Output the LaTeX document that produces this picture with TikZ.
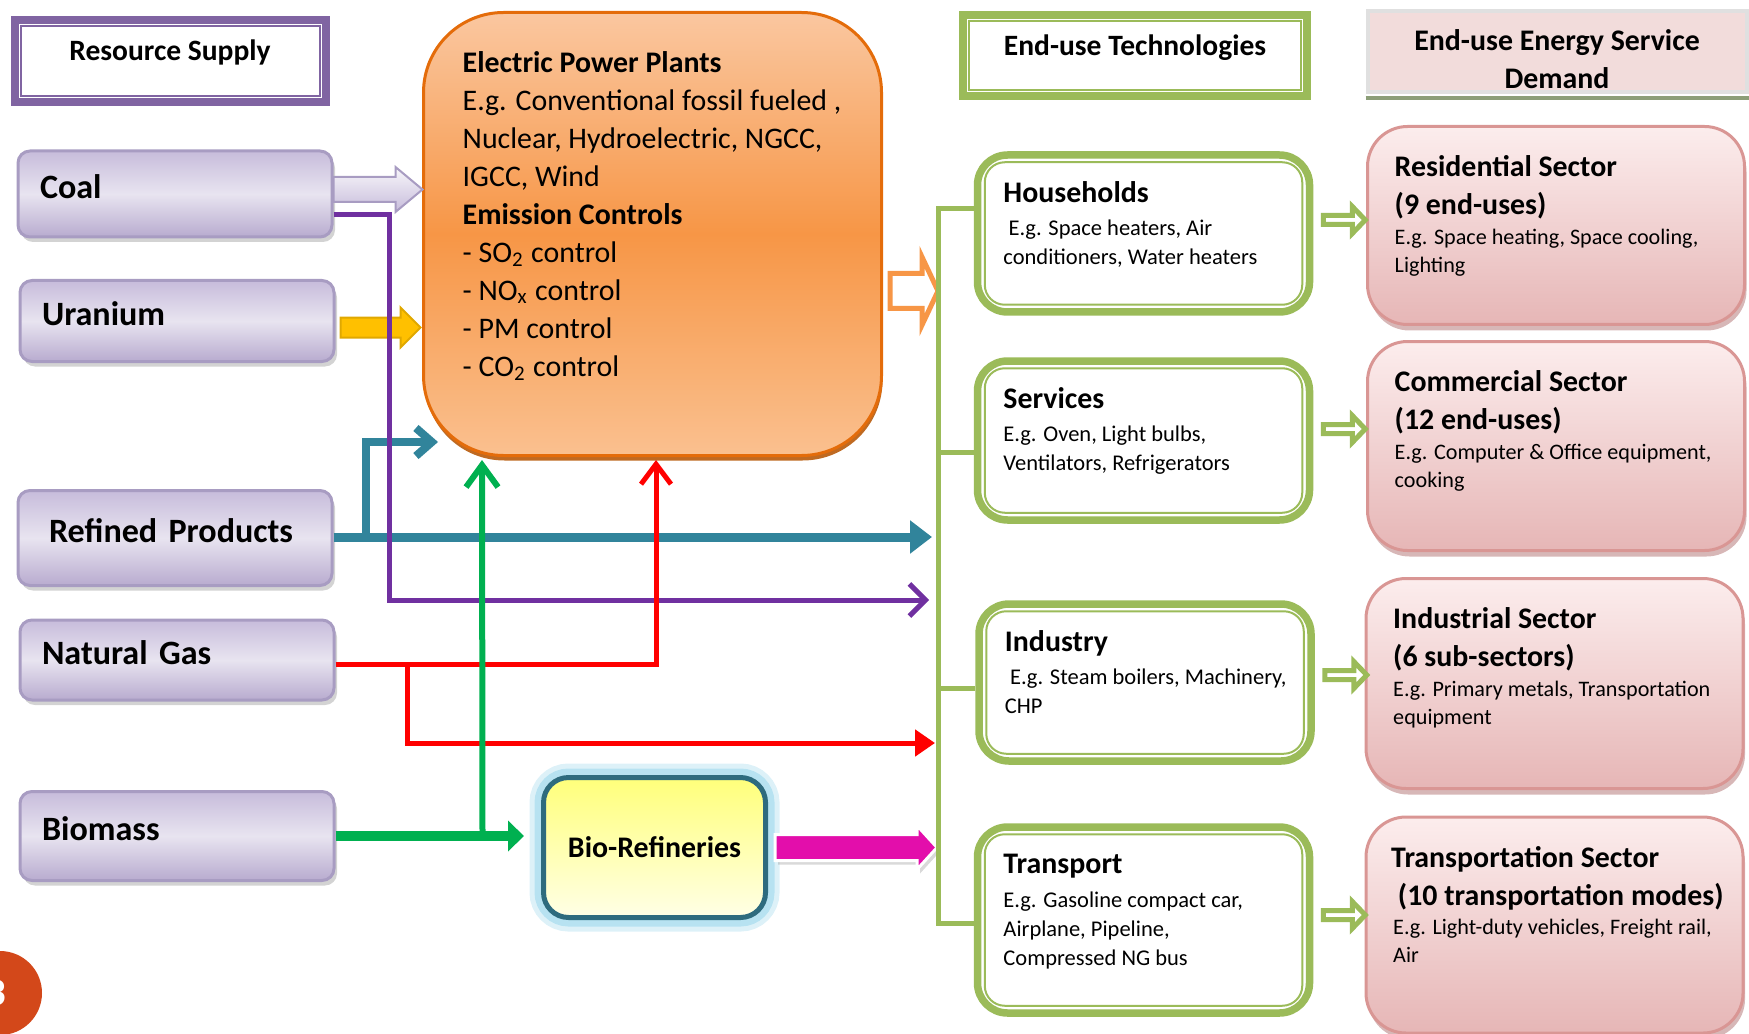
\documentclass[tikz,border=0pt]{standalone}
\usepackage{fontspec}
\setmainfont{Carlito}
\usetikzlibrary{calc,arrows.meta,shadows}

\definecolor{srctop}{HTML}{C7BCDB}
\definecolor{srcmid}{HTML}{E8E4F0}
\definecolor{srcbot}{HTML}{B8ABCF}
\definecolor{srcline}{HTML}{A89CC2}
\definecolor{supplyline}{HTML}{8064A2}
\definecolor{planttop}{HTML}{FAC7A0}
\definecolor{plantmid}{HTML}{F79646}
\definecolor{plantbot}{HTML}{FAC08F}
\definecolor{plantline}{HTML}{E46C0A}
\definecolor{plantshade}{HTML}{B85A0A}
\definecolor{techgreen}{HTML}{9BBB59}
\definecolor{sectop}{HTML}{FCEDED}
\definecolor{secbot}{HTML}{E6B6B6}
\definecolor{secline}{HTML}{D99694}
\definecolor{secshade}{HTML}{B07070}
\definecolor{hdpink}{HTML}{F2DCDB}
\definecolor{hdolive}{HTML}{8C9E78}
\definecolor{tealflow}{HTML}{31849B}
\definecolor{purpleflow}{HTML}{7030A0}
\definecolor{redflow}{HTML}{FF0000}
\definecolor{greenflow}{HTML}{00B050}
\definecolor{magentaflow}{HTML}{E30EAB}
\definecolor{goldflow}{HTML}{FFC000}
\definecolor{golddark}{HTML}{E0A800}
\definecolor{bioline}{HTML}{2E6B7E}
\definecolor{bioglow}{HTML}{9ED8EC}
\definecolor{bioyellow}{HTML}{FFFF7A}
\definecolor{biopale}{HTML}{FFFFE6}
\definecolor{slidenum}{HTML}{D3481A}

% block arrow: style, start, tip, half shaft, half head, head length
\newcommand{\fatarrow}[6]{%
  \draw[#1] let \p1=(#2), \p2=(#3) in
    (\x1,\y2+#4) -- (\x2-#6,\y2+#4) -- (\x2-#6,\y2+#5) -- (\x2,\y2)
    -- (\x2-#6,\y2-#5) -- (\x2-#6,\y2-#4) -- (\x1,\y2-#4) -- cycle;}

\tikzset{
  srcbox/.style={draw=srcline, line width=0.3mm, rounded corners=1.2mm,
    top color=srctop, bottom color=srcbot, middle color=srcmid,
    minimum width=31.4mm, minimum height=8.6mm, text width=27mm, inner xsep=2.2mm,
    text height=2.3mm, text depth=1.4mm,
    align=left, font=\fontsize{9.7}{11}\selectfont\bfseries,
    drop shadow={shadow xshift=0.3mm, shadow yshift=-0.5mm, opacity=0.35}},
  hdbox/.style={line width=0.8mm, fill=white, text height=2.2mm, text depth=2.2mm,
    font=\fontsize{8.4}{10}\selectfont\bfseries},
  hdinner/.style={line width=0.2mm},
  plantbox/.style={draw=plantline, line width=0.3mm, rounded corners=8mm,
    top color=planttop, bottom color=plantbot, middle color=plantmid,
    minimum width=45.8mm, minimum height=44.3mm,
    drop shadow={shadow xshift=0.1mm, shadow yshift=-0.5mm, fill=plantshade, opacity=0.9}},
  plantstext/.style={anchor=north west, inner sep=0pt, align=left,
    font=\fontsize{8.5}{10.8}\selectfont},
  techbox/.style={draw=techgreen, line width=0.75mm, rounded corners=3mm, fill=white,
    minimum width=33.2mm},
  techinner/.style={techgreen, line width=0.2mm, rounded corners=2mm},
  sectorbox/.style={draw=secline, line width=0.3mm, rounded corners=4mm,
    top color=sectop, bottom color=secbot, minimum width=37.7mm,
    drop shadow={shadow xshift=0.2mm, shadow yshift=-0.6mm, fill=secshade, opacity=0.5}},
  boxtitle/.style={anchor=north west, inner sep=0pt, align=left,
    font=\fontsize{8.5}{10.8}\selectfont\bfseries},
  techdesc/.style={anchor=north west, inner sep=0pt, align=left,
    font=\fontsize{6.4}{8.25}\selectfont},
  sectordesc/.style={anchor=north west, inner sep=0pt, align=left,
    font=\fontsize{6.3}{8}\selectfont},
  biobox/.style={draw=bioline, line width=0.5mm, rounded corners=2.5mm,
    top color=bioyellow, bottom color=biopale, minimum width=22.2mm, minimum height=14mm,
    font=\fontsize{8.5}{10}\selectfont\bfseries,
    preaction={draw=bioglow, line width=2.8mm, opacity=0.35},
    preaction={draw=bioglow, line width=1.8mm, opacity=0.6}},
  coalflow/.style={draw=srcline, line width=0.2mm, top color=white!70!srcmid, bottom color=srctop},
  uraniumflow/.style={draw=golddark, line width=0.2mm, fill=goldflow},
  plantflow/.style={draw=plantmid, line width=0.5mm, fill=white},
  bioflow/.style={draw=white, line width=0.3mm, fill=magentaflow,
    drop shadow={shadow xshift=0.3mm, shadow yshift=-0.4mm, opacity=0.3}},
  techflow/.style={draw=techgreen, line width=0.5mm, fill=white},
  bus/.style={techgreen, line width=0.5mm}
}

\begin{document}
\begin{tikzpicture}[x=0.1mm, y=-0.1mm]
\useasboundingbox (0,0) rectangle (1749,1033);

% column headers
\node[hdbox, draw=supplyline, minimum width=31.1mm, minimum height=8.2mm] (supplyhd) at (170,61) {Resource Supply};
\node[hdbox, draw=techgreen, minimum width=34.4mm, minimum height=8.1mm] (techhd) at (1135,55.5) {End-use Technologies};
\draw[hdinner, supplyline] ($(supplyhd.north west)+(10,10)$) rectangle ($(supplyhd.south east)+(-10,-10)$);
\draw[hdinner, techgreen] ($(techhd.north west)+(10,10)$) rectangle ($(techhd.south east)+(-10,-10)$);
\node[draw=black!12, line width=0.4mm, fill=hdpink, minimum width=37.9mm, minimum height=8.1mm] (demandhd) at (1557,52) {};
\draw[hdolive, line width=0.4mm] ([yshift=-0.4mm]demandhd.south west) -- ([yshift=-0.4mm]demandhd.south east);
\node[align=center, font=\fontsize{8.5}{11}\selectfont\bfseries] (demandtxt) at ($(demandhd)+(0,7)$) {End-use Energy Service\\Demand};

% resources
\node[srcbox] (coal) at (175,194) {Coal};
\node[srcbox, minimum height=8.1mm] (uranium) at (177,321) {Uranium};
\node[srcbox, minimum height=9.5mm] (refined) at (175,538) {\hspace*{0.9mm}Refined Products};
\node[srcbox, minimum height=8mm] (natgas) at (177,660) {Natural Gas};
\node[srcbox, minimum height=8.9mm] (biomass) at (177,836) {Biomass};

% power plants
\node[plantbox] (plants) at (652.5,234) {};
\node[plantstext] (plantstext) at ($(plants.north west)+(40,40)$) {\textbf{Electric Power Plants}\\
  E.g. Conventional fossil fueled ,\\ Nuclear, Hydroelectric, NGCC,\\ IGCC, Wind\\
  \textbf{Emission Controls}\\ - SO\textsubscript{2} control\\ - NO\textsubscript{x} control\\
  - PM control\\ - CO\textsubscript{2} control};

% bio-refinery
\node[biobox] (biorefinery) at (654.5,847.5) {Bio-Refineries};

% end-use technologies
\node[techbox, minimum height=15.7mm] (households) at (1143.5,233.5) {};
\node[techbox, minimum height=15.9mm] (services) at (1143.5,440.5) {};
\node[techbox, minimum height=15.7mm] (industry) at (1145,682.5) {};
\node[techbox, minimum height=18.6mm] (transport) at (1143.5,920) {};
\foreach \tb in {households,services,industry,transport}
  \draw[techinner] ($(\tb.north west)+(11,11)$) rectangle ($(\tb.south east)+(-11,-11)$);
\node[boxtitle] (householdst) at ($(households.north west)+(29,30)$) {Households};
\node[techdesc] (householdsd) at ($(households.north west)+(29,68)$) {~E.g. Space heaters, Air\\conditioners, Water heaters};
\node[boxtitle] (servicest) at ($(services.north west)+(29,30)$) {Services};
\node[techdesc] (servicesd) at ($(services.north west)+(29,68)$) {E.g. Oven, Light bulbs,\\Ventilators, Refrigerators};
\node[boxtitle] (industryt) at ($(industry.north west)+(29,30)$) {Industry};
\node[techdesc] (industryd) at ($(industry.north west)+(29,68)$) {~E.g. Steam boilers, Machinery,\\CHP};
\node[boxtitle] (transportt) at ($(transport.north west)+(29,30)$) {Transport};
\node[techdesc] (transportd) at ($(transport.north west)+(29,68)$) {E.g. Gasoline compact car,\\Airplane, Pipeline,\\Compressed NG bus};

% energy service demand
\node[sectorbox, minimum height=19.8mm] (residential) at (1556,225.5) {};
\node[sectorbox, minimum height=20.9mm] (commercial) at (1556,446) {};
\node[sectorbox, minimum height=21mm] (industrial) at (1554.5,683.5) {};
\node[sectorbox, minimum height=21.6mm] (transportation) at (1554.5,925) {};
\node[boxtitle] (residentialt) at ($(residential.north west)+(28,30)$) {Residential Sector\\(9 end-uses)};
\node[sectordesc] (residentiald) at ($(residential.north west)+(28,103)$) {E.g. Space heating, Space cooling,\\Lighting};
\node[boxtitle] (commercialt) at ($(commercial.north west)+(28,30)$) {Commercial Sector\\(12 end-uses)};
\node[sectordesc] (commerciald) at ($(commercial.north west)+(28,103)$) {E.g. Computer \& Office equipment,\\cooking};
\node[boxtitle] (industrialt) at ($(industrial.north west)+(28,30)$) {Industrial Sector\\(6 sub-sectors)};
\node[sectordesc] (industriald) at ($(industrial.north west)+(28,103)$) {E.g. Primary metals, Transportation\\equipment};
\node[boxtitle] (transportationt) at ($(transportation.north west)+(26,30)$) {Transportation Sector\\~(10 transportation modes)};
\node[sectordesc] (transportationd) at ($(transportation.north west)+(28,103)$) {E.g. Light-duty vehicles, Freight rail,\\Air};

% block arrows
\fatarrow{coalflow}{coal.east}{$(coal.east)+(89,-4.5)$}{1.25mm}{2.25mm}{2.7mm}
\fatarrow{uraniumflow}{$(uranium.east)+(5,0)$}{$(uranium.east)+(85,6.5)$}{1mm}{2mm}{2mm}
\fatarrow{plantflow}{$(plants.east)+(7,57)$}{$(plants.east)+(55,57)$}{1.75mm}{3.4mm}{1.6mm}
\fatarrow{bioflow}{$(biorefinery.east)+(7,0)$}{$(biorefinery.east)+(169,0)$}{1.3mm}{2.2mm}{2mm}
\foreach \tb/\dy in {households/-13.5, services/-11.5, industry/-7.5, transport/-5}{
  \fatarrow{techflow}{$(\tb.east)+(10,\dy)$}{$(\tb.east)+(52,\dy)$}{0.45mm}{1.35mm}{1.3mm}
}

% fuel lines
\coordinate (tealend) at (932,537);
\coordinate (purpleend) at (929,600);
\coordinate (redend) at (935,743);
\coordinate (busend) at (938,923);

\draw[tealflow, line width=0.9mm, -{Triangle[length=2.2mm, width=3.2mm]}] (refined.east |- tealend) -- (tealend);
\draw[tealflow, line width=0.8mm, -{Straight Barb[length=1.6mm, width=2.8mm]}] ($(refined.east)+(32,0)$) |- ($(plants.south west)+(16,-15)$);
\draw[purpleflow, line width=0.5mm, -{Straight Barb[length=1.6mm, width=3.2mm]}] ([yshift=-2.1mm]coal.east) -- ++(56,0) |- (purpleend);
\draw[redflow, line width=0.5mm, -{Straight Barb[length=2mm, width=3mm]}] ([yshift=-0.4mm]natgas.east) -| ($(plants.south)+(3.5,3)$);
\draw[redflow, line width=0.5mm, -{Triangle[length=2mm, width=2.6mm]}] ($(natgas.east)+(72,4)$) |- (redend);
\draw[greenflow, line width=0.6mm, -{Straight Barb[length=2.2mm, width=3.2mm]}] ($(biomass.east)+(147,0)$) -- ($(plants.south west)+(60,3)$);
\draw[greenflow, line width=1mm, -{Triangle[length=1.6mm, width=3mm]}] (biomass.east) -- ($(biomass.east -| biorefinery.west)+(-17,0)$);

% bus into the technologies
\draw[bus] ([yshift=2.45mm]households.west) -| (busend) -- (transport.west |- busend);
\draw[bus] ([yshift=-1.15mm]services.west) -- ++(-36,0);
\draw[bus] ([yshift=-0.55mm]industry.west) -- ++(-36,0);

% slide number
\fill[slidenum] (0,993) circle (4.2mm);
\node[text=white, font=\fontsize{11}{13}\selectfont\bfseries] (slideno) at (-4,993) {3};
\end{tikzpicture}
\end{document}
